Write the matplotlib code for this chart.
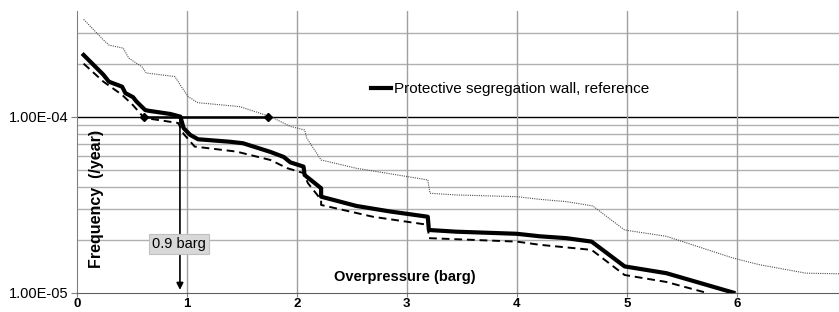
import matplotlib.pyplot as plt
from matplotlib.ticker import FixedLocator, NullFormatter

plt.rcParams['font.family'] = ['Liberation Sans', 'DejaVu Sans']

# reference curve (thick black)
ref_x = [0.06, 0.24, 0.29, 0.41, 0.44, 0.51, 0.54, 0.62, 0.65, 0.85, 0.94, 0.97, 1.03, 1.10, 1.39,
         1.51, 1.76, 1.88, 1.94, 2.06, 2.07, 2.22, 2.22, 2.54, 2.85, 3.19, 3.20, 3.45, 4.0, 4.21,
         4.45, 4.68, 4.98, 5.36, 5.97]
ref_y = [2.24e-4, 1.73e-4, 1.58e-4, 1.48e-4, 1.36e-4, 1.29e-4, 1.22e-4, 1.09e-4, 1.08e-4, 1.035e-4,
         1.0e-4, 8.6e-5, 7.87e-5, 7.44e-5, 7.2e-5, 7.06e-5, 6.3e-5, 5.9e-5, 5.5e-5, 5.2e-5, 4.66e-5,
         3.92e-5, 3.51e-5, 3.11e-5, 2.89e-5, 2.70e-5, 2.27e-5, 2.22e-5, 2.16e-5, 2.09e-5, 2.04e-5,
         1.95e-5, 1.41e-5, 1.29e-5, 1.0e-5]

# lower curve (dashed)
low_x = [0.06, 0.24, 0.41, 0.51, 0.60, 0.63, 0.92, 0.97, 1.07, 1.45, 1.76, 1.91, 2.06, 2.10, 2.22,
         2.22, 2.69, 3.19, 3.20, 4.0, 4.21, 4.68, 4.98, 5.36, 5.72]
low_y = [2.0e-4, 1.58e-4, 1.33e-4, 1.16e-4, 1.0e-4, 9.8e-5, 9.2e-5, 7.97e-5, 6.76e-5, 6.33e-5, 5.67e-5,
         5.1e-5, 4.78e-5, 4.19e-5, 3.37e-5, 3.15e-5, 2.7e-5, 2.43e-5, 2.04e-5, 1.95e-5, 1.87e-5,
         1.75e-5, 1.26e-5, 1.15e-5, 1.0e-5]

# upper curve (grey dotted)
up_x = [0.06, 0.24, 0.29, 0.42, 0.47, 0.59, 0.63, 0.89, 0.94, 1.01, 1.10, 1.48, 1.76, 1.94, 2.07,
        2.09, 2.22, 2.54, 3.19, 3.21, 3.45, 4.0, 4.21, 4.45, 4.69, 4.98, 5.36, 5.97, 6.21, 6.63, 6.93]
up_y = [3.57e-4, 2.73e-4, 2.55e-4, 2.45e-4, 2.15e-4, 1.92e-4, 1.77e-4, 1.69e-4, 1.51e-4, 1.30e-4,
        1.2e-4, 1.14e-4, 1.0e-4, 8.8e-5, 8.4e-5, 7.54e-5, 5.67e-5, 5.09e-5, 4.37e-5, 3.67e-5, 3.59e-5,
        3.51e-5, 3.39e-5, 3.29e-5, 3.11e-5, 2.27e-5, 2.09e-5, 1.57e-5, 1.44e-5, 1.29e-5, 1.28e-5]

marker_x = [0.61, 1.74]
marker_y = [1e-4, 1e-4]
arrow_x = 0.936

fig = plt.figure(figsize=(8.39, 3.12), dpi=100)
ax = fig.add_axes([0.0918, 0.062, 0.9082, 0.9038])

ax.set_yscale('log')
ax.set_xlim(0, 6.93)
ax.set_ylim(1e-5, 4e-4)

# grid
minor = [2e-5, 3e-5, 4e-5, 5e-5, 6e-5, 7e-5, 8e-5, 9e-5, 2e-4, 3e-4]
for v in minor:
    ax.axhline(v, color='#b0b0b0', lw=1.0, zorder=1)
ax.axhline(1e-4, color='black', lw=1.0, zorder=1)
for xv in range(1, 7):
    ax.axvline(xv, color='#a0a0a0', lw=1.0, zorder=1)

ax.yaxis.set_major_locator(FixedLocator([1e-5, 1e-4]))
ax.yaxis.set_minor_locator(FixedLocator([]))
ax.yaxis.set_minor_formatter(NullFormatter())
ax.set_yticklabels(['1.00E-05', '1.00E-04'])
ax.set_xticks(range(0, 7))
ax.tick_params(axis='y', labelsize=10.5, length=4, pad=2, color='#808080')
ax.tick_params(axis='x', labelsize=9.5, length=3, pad=1, color='#808080')
for lab in ax.get_xticklabels():
    lab.set_fontweight('bold')

for s in ['top', 'right']:
    ax.spines[s].set_visible(False)
ax.spines['left'].set_color('#808080')
ax.spines['bottom'].set_color('#606060')

ax.plot(up_x, up_y, color='#505050', lw=0.8, ls=(0, (1, 1)), zorder=3)
ax.plot(low_x, low_y, color='black', lw=1.4, ls=(0, (4, 2.5)), zorder=3)
ax.plot(ref_x, ref_y, color='black', lw=3.0, zorder=4,
        label='Protective segregation wall, reference')

ax.plot(marker_x, marker_y, color='black', lw=1.8, marker='D', ms=4, zorder=5)
ax.annotate('', xy=(arrow_x, 1e-5), xytext=(arrow_x, 1e-4),
            arrowprops=dict(arrowstyle='-|>', color='black', lw=1.2, mutation_scale=10),
            zorder=5)
ax.text(0.93, 1.9e-5, '0.9 barg', fontsize=10.5, ha='center', va='center', zorder=6,
        bbox=dict(boxstyle='square,pad=0.2', fc='#d8d8d8', ec='#c0c0c0', lw=0.8))

ax.text(0.18, 3.4e-5, 'Frequency  (/year)', rotation=90, fontsize=11.5, fontweight='bold',
        ha='center', va='center')
ax.text(2.98, 1.23e-5, 'Overpressure (barg)', fontsize=10.5, fontweight='bold',
        ha='center', va='center')

leg = ax.legend(loc='center', bbox_to_anchor=(0.568, 0.722), frameon=False, fontsize=11,
                handlelength=1.3, handletextpad=0.2)

fig.savefig('out.png', dpi=100)
